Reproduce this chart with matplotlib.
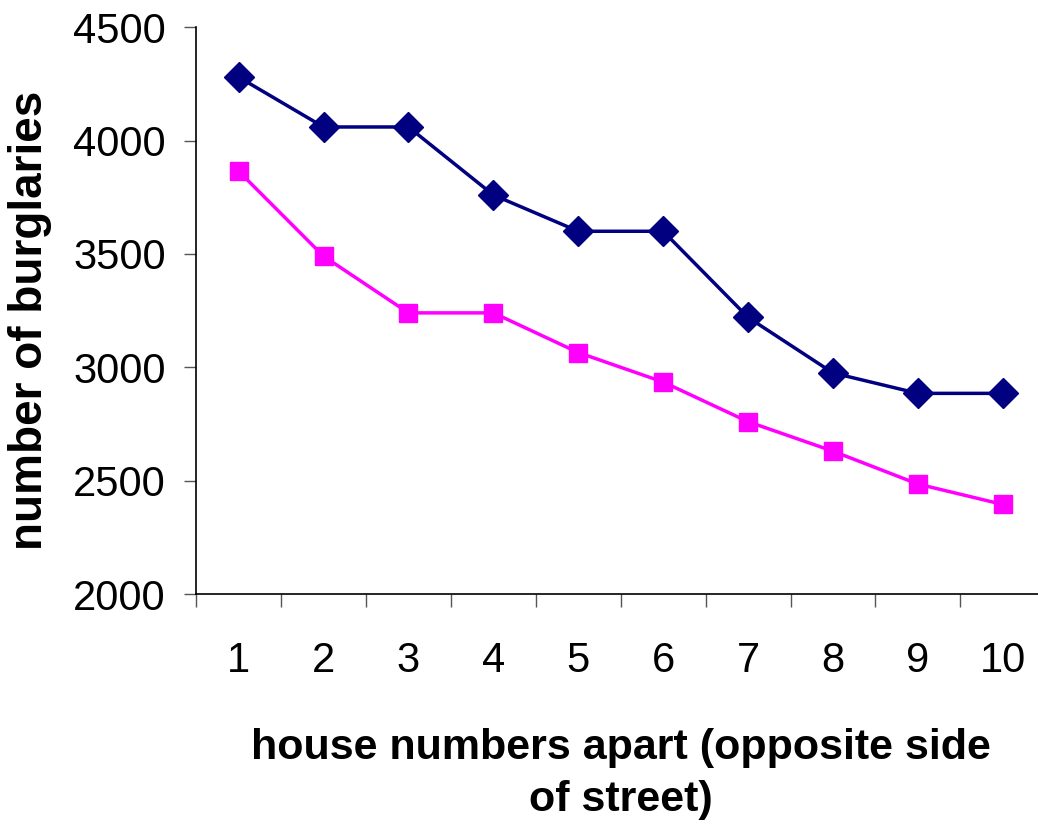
import numpy as np
import matplotlib
matplotlib.use("Agg")
import matplotlib.pyplot as plt

# datos
casas = [1, 2, 3, 4, 5, 6, 7, 8, 9, 10]
serie_azul = [4280, 4060, 4060, 3760, 3600, 3600, 3220, 2975, 2885, 2885]
serie_rosa = [3865, 3490, 3240, 3240, 3065, 2935, 2760, 2630, 2485, 2395]

plt.rcParams['font.family'] = ['Liberation Sans', 'DejaVu Sans']

fig = plt.figure(figsize=(10.38, 8.25), dpi=100)
ax = fig.add_axes([0.189, 0.28, 0.818, 0.687])

ax.plot(casas, serie_azul, color='#000080', lw=2.5, marker='D', ms=15, clip_on=False)
ax.plot(casas, serie_rosa, color='#FF00FF', lw=2.5, marker='s', ms=13, clip_on=False)

ax.set_xlim(0.5, 10.5)
ax.set_ylim(2000, 4500)
ax.set_yticks([2000, 2500, 3000, 3500, 4000, 4500])

# ticks entre categorias, etiquetas en el centro
ax.set_xticks(casas)
ax.set_xticklabels([str(c) for c in casas])
ax.set_xticks(np.arange(0.5, 11, 1), minor=True)
ax.tick_params(axis='x', which='major', length=0, pad=34, labelsize=30)
ax.tick_params(axis='x', which='minor', length=9, width=1, color='#555555', direction='out')
ax.tick_params(axis='y', length=9, width=1, color='#555555', pad=13, labelsize=30)

ax.spines['top'].set_visible(False)
ax.spines['right'].set_visible(False)
ax.spines['left'].set_linewidth(1.2)
ax.spines['bottom'].set_linewidth(1.2)

fig.text(0.029, 0.612, "number of burglaries", fontsize=33, fontweight='bold',
         rotation=90, ha='center', va='center')
fig.text(0.598, 0.062, "house numbers apart (opposite side\nof street)", fontsize=31,
         fontweight='bold', ha='center', va='center', linespacing=1.4)

fig.savefig("out.png", dpi=100)
